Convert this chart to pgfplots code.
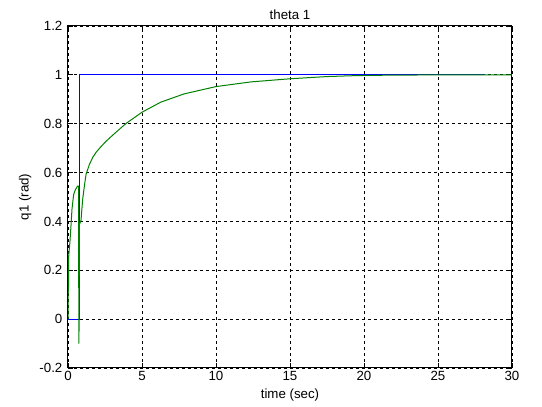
\documentclass[border=0pt]{standalone}
\usepackage{fontspec}
\setmainfont{Liberation Sans}
\usepackage{pgfplots}
\pgfplotsset{compat=1.18}

\begin{document}
\fontsize{13.3}{15}\selectfont
\begin{tikzpicture}[x=1pt,y=1pt]
\begin{axis}[
    at={(0,0)}, anchor=south west,
    scale only axis,
    width=444pt, height=342pt,
    xmin=0, xmax=30, ymin=-0.2, ymax=1.2,
    xtick={0,5,...,30},
    ytick={-0.2,0,0.2,0.4,0.6,0.8,1,1.2},
    yticklabels={-0.2,0,0.2,0.4,0.6,0.8,1,1.2},
    /pgf/number format/assume math mode=true,
    tick align=inside,
    major tick length=5pt,
    tick style={black, line width=0.8pt},
    axis line style={black, line width=1pt},
    grid=major,
    major grid style={black, line width=0.9pt, dash pattern=on 3pt off 3pt},
    title={theta 1},
    title style={yshift=-4pt},
    xlabel={time (sec)},
    ylabel={q1 (rad)},
    xlabel style={yshift=1pt},
    ylabel style={yshift=-1pt},
    yticklabel style={xshift=-1pt},
    xticklabel style={yshift=1pt},
]
\addplot[color={rgb,255:red,0;green,0;blue,255}, line width=1pt] coordinates {
(0,0) (0.75,0) (0.75,1) (28.2,1)
};
\addplot[color={rgb,255:red,0;green,128;blue,0}, line width=1pt] coordinates {
(0,0) (0.02,0.13) (0.03,0.25) (0.04,0.13) (0.05,0.26) (0.135,0.32)
(0.2,0.38) (0.27,0.45) (0.38,0.51) (0.5,0.53) (0.65,0.545) (0.72,0.545)
(0.73,-0.10) (0.745,0.38) (0.755,-0.05) (0.765,0.385) (0.79,0.39)
(0.88,0.405) (0.99,0.49) (1.13,0.555) (1.22,0.593) (1.44,0.632)
(1.67,0.662) (1.9,0.683) (2.21,0.705) (2.57,0.728) (3.11,0.758) (3.9,0.80)
(5,0.847) (6.26,0.888) (7.84,0.922) (10,0.952) (12.34,0.971) (15,0.984)
(17.5,0.993) (19.5,0.997) (22,0.999) (26,1.0) (30,1.0)
};
\end{axis}
\pgfresetboundingbox
\path (-68,-39) rectangle (474,368);
\end{tikzpicture}
\end{document}
